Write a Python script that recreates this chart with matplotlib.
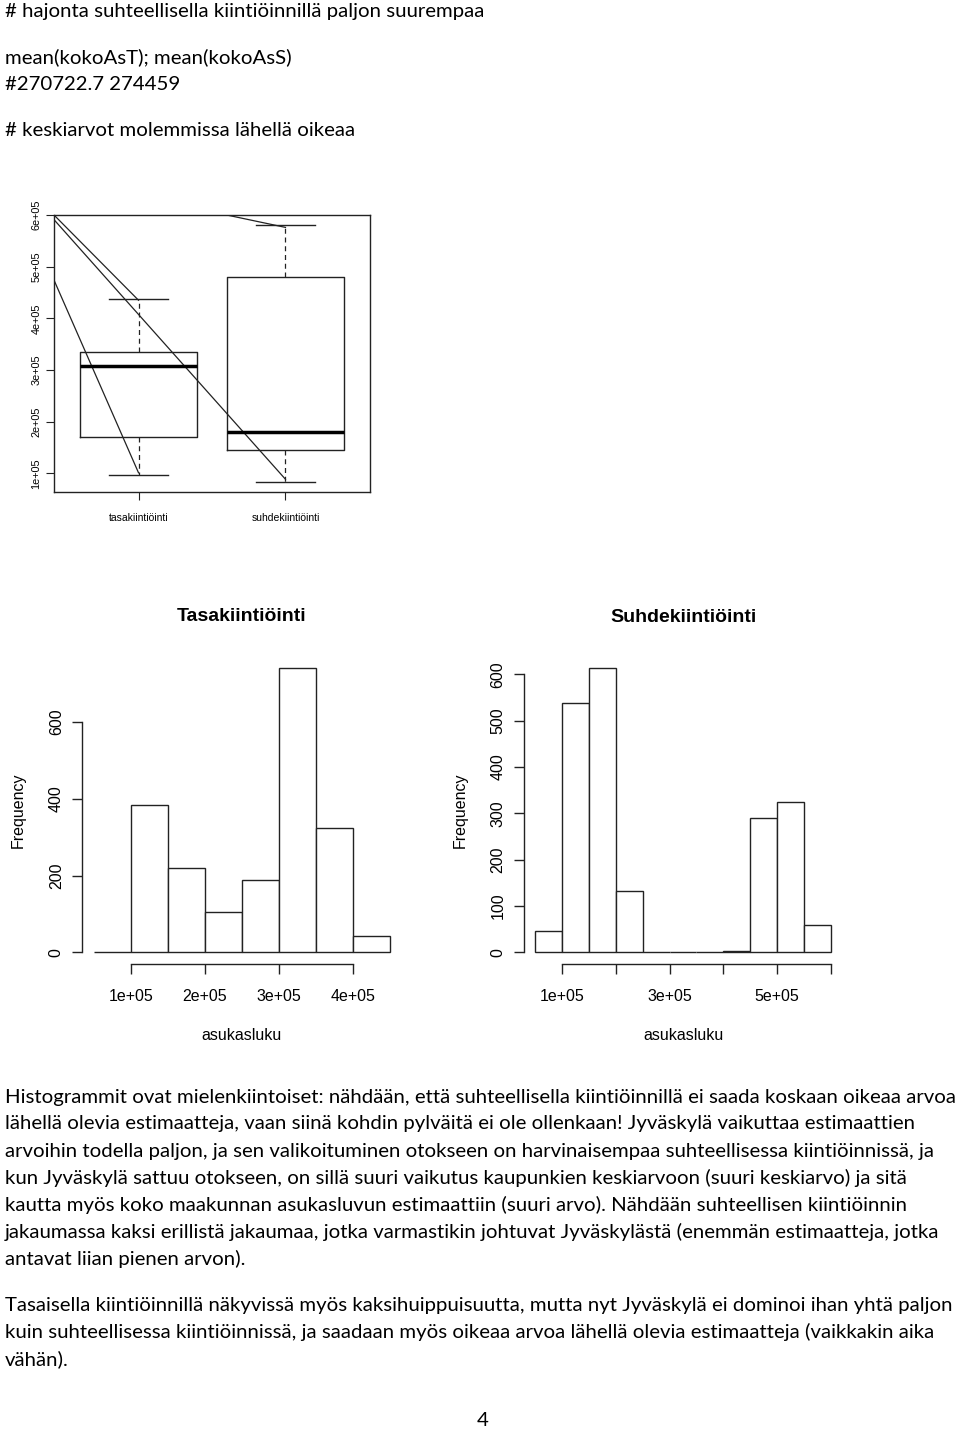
import matplotlib
matplotlib.use('Agg')
import matplotlib.pyplot as plt
import numpy as np

plt.rcParams['font.family'] = ['Liberation Sans', 'DejaVu Sans']

# boxplot data
groups = ['tasakiintiöinti', 'suhdekiintiöinti']
box_lo = [0.97e5, 0.826e5]
box_q1 = [1.70e5, 1.457e5]
box_med = [3.075e5, 1.805e5]
box_q3 = [3.34e5, 4.80e5]
box_hi = [4.37e5, 5.80e5]

# stray lines drawn over the boxplot
line_x = [[0.425, 1.0], [0.425, 2.0], [0.425, 1.0], [1.60, 2.0]]
line_y = [[6.0e5, 4.35e5], [5.91e5, 0.884e5], [4.74e5, 1.01e5], [6.0e5, 5.76e5]]

# histograms
tasa_breaks = [0.5e5, 1.0e5, 1.5e5, 2.0e5, 2.5e5, 3.0e5, 3.5e5, 4.0e5, 4.5e5]
tasa_counts = [2, 385, 221, 104, 188, 742, 325, 43]
suhde_breaks = [0.5e5, 1.0e5, 1.5e5, 2.0e5, 2.5e5, 3.0e5, 3.5e5, 4.0e5, 4.5e5,
                5.0e5, 5.5e5, 6.0e5]
suhde_counts = [47, 539, 614, 132, 0, 0, 0, 2, 289, 325, 58]

top_lines = ['# hajonta suhteellisella kiintiöinnillä paljon suurempaa',
             'mean(kokoAsT); mean(kokoAsS)',
             '#270722.7 274459',
             '# keskiarvot molemmissa lähellä oikeaa']
top_y = [12, 57, 84, 130]

para_lines = [
    'Histogrammit ovat mielenkiintoiset: nähdään, että suhteellisella kiintiöinnillä ei saada koskaan oikeaa arvoa',
    'lähellä olevia estimaatteja, vaan siinä kohdin pylväitä ei ole ollenkaan! Jyväskylä vaikuttaa estimaattien',
    'arvoihin todella paljon, ja sen valikoituminen otokseen on harvinaisempaa suhteellisessa kiintiöinnissä, ja',
    'kun Jyväskylä sattuu otokseen, on sillä suuri vaikutus kaupunkien keskiarvoon (suuri keskiarvo) ja sitä',
    'kautta myös koko maakunnan asukasluvun estimaattiin (suuri arvo). Nähdään suhteellisen kiintiöinnin',
    'jakaumassa kaksi erillistä jakaumaa, jotka varmastikin johtuvat Jyväskylästä (enemmän estimaatteja, jotka',
    'antavat liian pienen arvon).',
    'Tasaisella kiintiöinnillä näkyvissä myös kaksihuippuisuutta, mutta nyt Jyväskylä ei dominoi ihan yhtä paljon',
    'kuin suhteellisessa kiintiöinnissä, ja saadaan myös oikeaa arvoa lähellä olevia estimaatteja (vaikkakin aika',
    'vähän).']
para_y = [1097, 1124, 1151, 1178, 1205, 1232, 1259, 1305, 1332, 1359]

W, H = 960, 1430
fig = plt.figure(figsize=(9.6, 14.3), dpi=100)


def frac(x0, y0, x1, y1):
    return [x0 / W, 1 - y1 / H, (x1 - x0) / W, (y1 - y0) / H]


ink = '#222222'

## boxplot
axb = fig.add_axes(frac(54, 215, 370, 492))
stats = []
for i in range(len(groups)):
    stats.append(dict(med=box_med[i], q1=box_q1[i], q3=box_q3[i],
                      whislo=box_lo[i], whishi=box_hi[i], fliers=[]))
axb.bxp(stats, positions=[1, 2], widths=0.8, capwidths=0.4, showfliers=False,
        boxprops=dict(color=ink, lw=1),
        whiskerprops=dict(color=ink, lw=0.9, ls=(0, (4, 3))),
        capprops=dict(color=ink, lw=1),
        medianprops=dict(color='black', lw=2.5))
for xs, ys in zip(line_x, line_y):
    axb.plot(xs, ys, color=ink, lw=0.9)
axb.set_xlim(0.425, 2.575)
axb.set_ylim(0.638e5, 6.0e5)
axb.set_yticks([1e5, 2e5, 3e5, 4e5, 5e5, 6e5])
axb.set_yticklabels(['1e+05', '2e+05', '3e+05', '4e+05', '5e+05', '6e+05'],
                    rotation=90, va='center', fontsize=7.8)
axb.set_xticks([1, 2])
axb.set_xticklabels(groups, fontsize=7.5)
axb.tick_params(axis='y', length=6, width=0.8, pad=3, color=ink)
axb.tick_params(axis='x', length=6, width=0.8, pad=9, color=ink)
for s in axb.spines.values():
    s.set_color(ink)
    s.set_linewidth(1)


## histograms
def hist_panel(box, breaks, counts, yticks, xticks, xlabels, title):
    ax = fig.add_axes(box)
    ax.bar(breaks[:-1], counts, width=np.diff(breaks), align='edge',
           color='white', edgecolor=ink, lw=1)
    span = breaks[-1] - breaks[0]
    ax.set_xlim(breaks[0] - 0.04 * span, breaks[-1] + 0.04 * span)
    ax.set_ylim(-0.04 * max(counts), 1.04 * max(counts))
    ax.spines['top'].set_visible(False)
    ax.spines['right'].set_visible(False)
    ax.spines['left'].set_bounds(yticks[0], yticks[-1])
    ax.spines['bottom'].set_bounds(xticks[0], xticks[-1])
    for s in ('left', 'bottom'):
        ax.spines[s].set_color(ink)
        ax.spines[s].set_linewidth(1)
    ax.set_yticks(yticks)
    ax.set_yticklabels([str(v) for v in yticks], rotation=90, va='center',
                       fontsize=11.5)
    ax.set_xticks(xticks)
    ax.set_xticklabels(xlabels, fontsize=11.5)
    ax.tick_params(axis='y', length=7, width=1, pad=6, color=ink)
    ax.tick_params(axis='x', length=7, width=1, pad=11, color=ink)
    ax.text(-0.2, 0.5, 'Frequency', transform=ax.transAxes, rotation=90,
            ha='center', va='center', fontsize=11.5)
    ax.text(0.5, -0.235, 'asukasluku', transform=ax.transAxes,
            ha='center', va='center', fontsize=11.5)
    ax.text(0.5, 1.128, title, transform=ax.transAxes, ha='center',
            va='center', fontsize=14, fontweight='bold')
    return ax


hist_panel(frac(81.9, 656.3, 401.5, 963.7), tasa_breaks, tasa_counts,
           [0, 200, 400, 600], [1e5, 2e5, 3e5, 4e5],
           ['1e+05', '2e+05', '3e+05', '4e+05'], 'Tasakiintiöinti')
hist_panel(frac(523.6, 656.6, 842.5, 963.7), suhde_breaks, suhde_counts,
           [0, 100, 200, 300, 400, 500, 600],
           [1e5, 2e5, 3e5, 4e5, 5e5, 6e5],
           ['1e+05', '', '3e+05', '', '5e+05', ''], 'Suhdekiintiöinti')

## page text
body = ['Lato', 'DejaVu Sans']
texts = []
for s, y in zip(top_lines, top_y):
    texts.append(fig.text(5 / W, 1 - y / H, s, family=body, fontsize=13,
                          ha='left', va='center'))
for s, y in zip(para_lines, para_y):
    texts.append(fig.text(5 / W, 1 - y / H, s, family=body, fontsize=13,
                          ha='left', va='center'))
texts.append(fig.text(483 / W, 1 - 1421 / H, '4', family=body, fontsize=13,
                      ha='center', va='center'))

# fit the font size so the first paragraph line spans like in the page
r = fig.canvas.get_renderer()
wdt = texts[len(top_lines)].get_window_extent(r).width
fs = 13 * 950 / wdt
for t in texts:
    t.set_fontsize(fs)

fig.savefig('out.png', dpi=100)
